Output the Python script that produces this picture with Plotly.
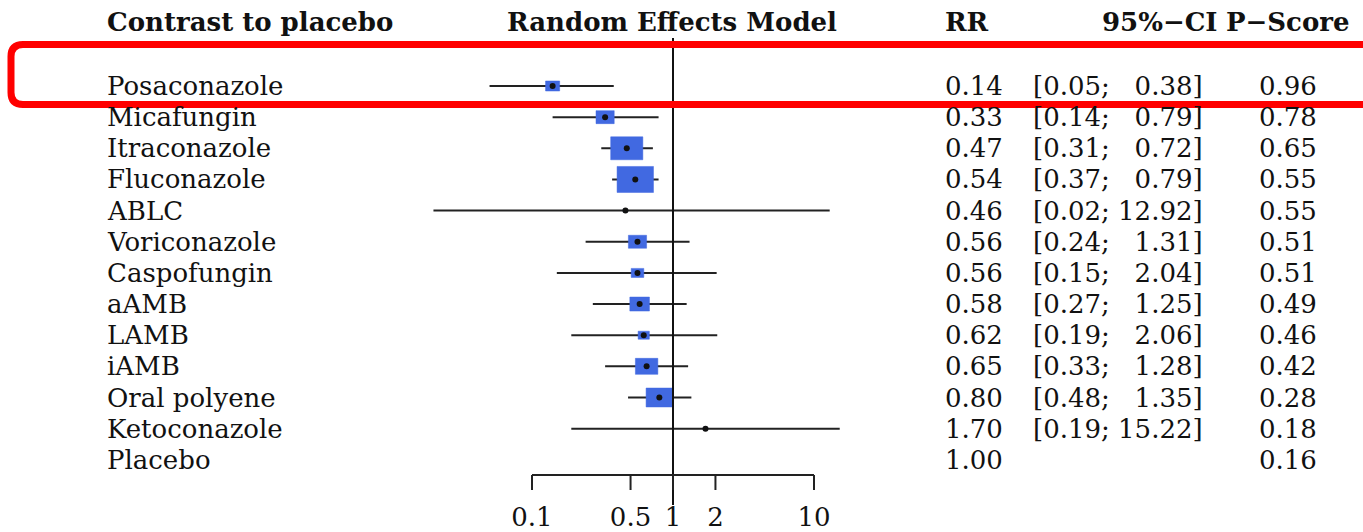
import math
import plotly.graph_objects as go

# ---------------- data ----------------
treatments = ["Posaconazole", "Micafungin", "Itraconazole", "Fluconazole", "ABLC",
              "Voriconazole", "Caspofungin", "aAMB", "LAMB", "iAMB", "Oral polyene",
              "Ketoconazole", "Placebo"]
rr = [0.14, 0.33, 0.47, 0.54, 0.46, 0.56, 0.56, 0.58, 0.62, 0.65, 0.80, 1.70, 1.00]
ci_low = [0.05, 0.14, 0.31, 0.37, 0.02, 0.24, 0.15, 0.27, 0.19, 0.33, 0.48, 0.19, None]
ci_high = [0.38, 0.79, 0.72, 0.79, 12.92, 1.31, 2.04, 1.25, 2.06, 1.28, 1.35, 15.22, None]
p_score = [0.96, 0.78, 0.65, 0.55, 0.55, 0.51, 0.51, 0.49, 0.46, 0.42, 0.28, 0.18, 0.16]
# relative weights (largest = 100)
weights = [15, 25, 78, 100, 1.3, 25, 12, 29, 9.5, 38, 53, 1.3, 0]
tick_vals = [0.1, 0.5, 1, 2, 10]
tick_labels = ["0.1", "0.5", "1", "2", "10"]
headers = ["Contrast to placebo", "Random Effects Model", "RR", "95%\u2212CI", "P\u2212Score"]

# ---------------- layout geometry (pixels) ----------------
W, H = 1363, 532
X1_PX = 673.0        # pixel of RR = 1
PX_DEC = 141.0       # pixels per decade
ROW0_PX = 86.0       # y pixel of first row
ROW_STEP = 31.15     # pixels per row
MAX_BOX_H = 26.0     # box height (px) at weight 100
BOX_ASPECT = 1.4

def px_to_log(px):
    return (px - X1_PX) / PX_DEC

def ypx_to_idx(py):
    return (py - ROW0_PX) / ROW_STEP

FONT = "DejaVu Serif"
FS = 26
INK = "#111111"
BLUE = "#4169E1"

fig = go.Figure()

# confidence interval lines
lx, ly = [], []
for i, (lo, hi) in enumerate(zip(ci_low, ci_high)):
    if lo is None:
        continue
    lx += [lo, hi, None]
    ly += [i, i, None]
fig.add_trace(go.Scatter(x=lx, y=ly, mode="lines", line=dict(color="#222222", width=2),
                         hoverinfo="skip", showlegend=False))

# weight boxes
bx, by = [], []
for i, (r, w) in enumerate(zip(rr, weights)):
    if w <= 0:
        continue
    h = MAX_BOX_H * math.sqrt(w / 100.0)
    wpx = h * BOX_ASPECT
    fx = 10 ** (wpx / 2 / PX_DEC)
    dy = h / 2 / ROW_STEP
    x0, x1 = r / fx, r * fx
    bx += [x0, x1, x1, x0, x0, None]
    by += [i - dy, i - dy, i + dy, i + dy, i - dy, None]
fig.add_trace(go.Scatter(x=bx, y=by, mode="lines", fill="toself", fillcolor=BLUE,
                         line=dict(color=BLUE, width=0.5), hoverinfo="skip", showlegend=False))

# point estimates
px_, py_ = [], []
for i, (r, lo) in enumerate(zip(rr, ci_low)):
    if lo is None:
        continue
    px_.append(r)
    py_.append(i)
fig.add_trace(go.Scatter(x=px_, y=py_, mode="markers",
                         marker=dict(color="#111111", size=6, symbol="circle"),
                         hoverinfo="skip", showlegend=False))

# reference line at RR = 1
fig.add_trace(go.Scatter(x=[1, 1], y=[ypx_to_idx(38), ypx_to_idx(505)], mode="lines",
                         line=dict(color=INK, width=2), hoverinfo="skip", showlegend=False))

# x axis (drawn)
axis_y = ypx_to_idx(475)
tick_end = ypx_to_idx(490)
ax_x = [tick_vals[0], tick_vals[-1], None]
ax_y = [axis_y, axis_y, None]
for v in tick_vals:
    ax_x += [v, v, None]
    ax_y += [axis_y, tick_end, None]
fig.add_trace(go.Scatter(x=ax_x, y=ax_y, mode="lines", line=dict(color="#222222", width=2),
                         hoverinfo="skip", showlegend=False))
fig.add_trace(go.Scatter(x=tick_vals, y=[ypx_to_idx(519)] * len(tick_vals), mode="text",
                         text=tick_labels, textposition="middle center",
                         textfont=dict(family=FONT, size=FS, color=INK),
                         hoverinfo="skip", showlegend=False))

annotations = []

def add_text(text, xpx, yidx, anchor, bold=False):
    annotations.append(dict(
        x=xpx / W, xref="paper", y=yidx, yref="y", text=(f"<b>{text}</b>" if bold else text),
        xanchor=anchor, yanchor="middle", showarrow=False,
        font=dict(family=FONT, size=FS, color=INK)))

# headers
hy = ypx_to_idx(22)
add_text(headers[0], 105, hy, "left", True)
add_text(headers[1], 672, hy, "center", True)
add_text(headers[2], 967, hy, "center", True)
add_text(headers[3], 1220, hy, "right", True)
add_text(headers[4], 1352, hy, "right", True)

# rows
for i, name in enumerate(treatments):
    add_text(name, 105, i, "left")
    add_text(f"{rr[i]:.2f}", 1005, i, "right")
    if ci_low[i] is not None:
        hi_s = f"{ci_high[i]:.2f}"
        if ci_high[i] < 10:
            hi_s = "\u2007" + hi_s
        add_text(f"[{ci_low[i]:.2f}; {hi_s}]", 1205, i, "right")
    add_text(f"{p_score[i]:.2f}", 1288, i, "center")

# red highlight box (rounded, open on the right)
top, bot, left, rad = 44.5, 104.5, 11.0, 12.0
path = (f"M {W + 20},{-top} L {left + rad},{-top} Q {left},{-top} {left},{-(top + rad)} "
        f"L {left},{-(bot - rad)} Q {left},{-bot} {left + rad},{-bot} L {W + 20},{-bot}")
shapes = [dict(type="path", xref="paper", yref="paper", xsizemode="pixel", ysizemode="pixel",
               xanchor=0, yanchor=1, path=path, line=dict(color="#ff0000", width=7))]

fig.update_layout(
    width=W, height=H, margin=dict(l=0, r=0, t=0, b=0),
    paper_bgcolor="white", plot_bgcolor="white",
    xaxis=dict(type="log", range=[px_to_log(0), px_to_log(W)], visible=False, fixedrange=True),
    yaxis=dict(range=[ypx_to_idx(H), ypx_to_idx(0)], visible=False, fixedrange=True),
    annotations=annotations, shapes=shapes, showlegend=False,
)

fig.write_html(
    "out.html",
    config={"displayModeBar": False},
    post_script="document.documentElement.style.margin='0';document.body.style.margin='0';"
                "document.body.style.padding='0';document.body.style.overflow='hidden';",
)
